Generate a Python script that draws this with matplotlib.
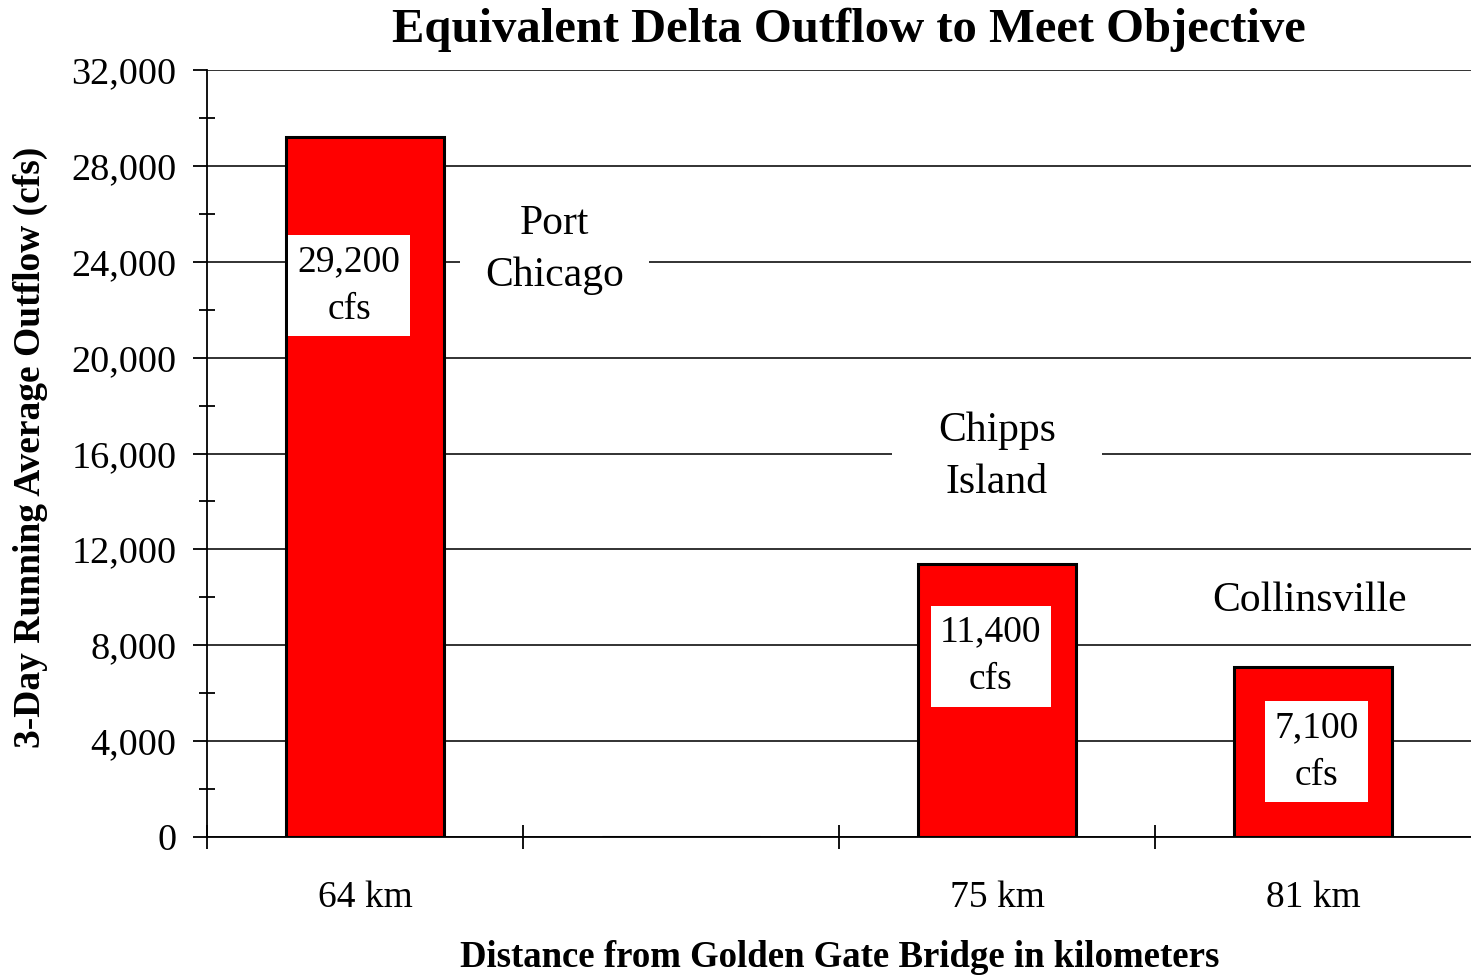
"""Equivalent Delta outflow needed to meet the salinity objective."""

import matplotlib

matplotlib.use("Agg")
import matplotlib.pyplot as plt
import numpy as np
from matplotlib.ticker import FuncFormatter, MultipleLocator

# one slot per category; the second slot is left empty in the original chart
categories = ["64 km", "", "75 km", "81 km"]
outflow_cfs = [29200, np.nan, 11400, 7100]
value_labels = ["29,200\ncfs", "", "11,400\ncfs", "7,100\ncfs"]
stations = ["Port\nChicago", "", "Chipps\nIsland", "Collinsville"]

plt.rcParams["font.family"] = ["Liberation Serif", "DejaVu Serif"]

fig = plt.figure(figsize=(14.71, 9.76), dpi=100)
ax = fig.add_axes([207 / 1471, 139 / 976, 1 - 207 / 1471, 767 / 976])

x = np.arange(len(categories))
heights = np.nan_to_num(outflow_cfs)
ax.bar(x, heights, width=0.5, color="#ff0000", edgecolor="black", linewidth=2.2, zorder=3)

ax.set_xlim(-0.5, 3.5)
ax.set_ylim(0, 32000)

# gridlines and axes
ax.yaxis.set_major_locator(MultipleLocator(4000))
ax.yaxis.set_minor_locator(MultipleLocator(2000))
ax.yaxis.set_major_formatter(FuncFormatter(lambda v, _: f"{int(v):,}"))
ax.grid(True, axis="y", which="major", color="#222222", linewidth=1.3, zorder=1)
ax.tick_params(axis="y", which="major", direction="out", length=10, width=1.3, pad=12, labelsize=27.5)
ax.tick_params(axis="y", which="minor", direction="inout", length=12, width=1.3)

ax.set_xticks(x)
ax.set_xticklabels(categories)
ax.set_xticks(np.arange(-0.5, 3.0, 1.0), minor=True)
ax.tick_params(axis="x", which="major", length=0, pad=31, labelsize=27)
ax.tick_params(axis="x", which="minor", direction="inout", length=17, width=1.3)

for side in ["top", "right"]:
    ax.spines[side].set_visible(False)
for side in ["left", "bottom"]:
    ax.spines[side].set_linewidth(1.3)
    ax.spines[side].set_color("black")
ax.set_axisbelow(True)

# value boxes inside the bars
value_y = [22990, 0, 7550, 3550]
value_dx = [-0.05, 0, -0.02, 0.01]
for i, label in enumerate(value_labels):
    if not label:
        continue
    ax.text(x[i] + value_dx[i], value_y[i], label, ha="center", va="center", fontsize=27,
            linespacing=1.5, zorder=4,
            bbox=dict(boxstyle="square,pad=0.25", facecolor="white", edgecolor="none"))

# station names, white boxes cut through the gridlines
station_pos = [(0.6, 24500, 0.6), None, (2.0, 15850, 1.1), (2.99, 9850, 0.2)]
for name, pos in zip(stations, station_pos):
    if pos is None:
        continue
    sx, sy, pad = pos
    ax.text(sx, sy, name, ha="center", va="center", fontsize=30, linespacing=1.45, zorder=2,
            bbox=dict(boxstyle=f"square,pad={pad}", facecolor="white", edgecolor="none"))

fig.text(0.577, 0.969, "Equivalent Delta Outflow to Meet Objective", ha="center", va="center",
         fontsize=35, fontweight="bold")
fig.text(0.571, 0.019, "Distance from Golden Gate Bridge in kilometers", ha="center", va="center",
         fontsize=26.5, fontweight="bold")
fig.text(0.0204, 0.542, "3-Day Running Average Outflow (cfs)", ha="center", va="center",
         rotation=90, fontsize=27, fontweight="bold")

fig.savefig("out.png", dpi=100)
